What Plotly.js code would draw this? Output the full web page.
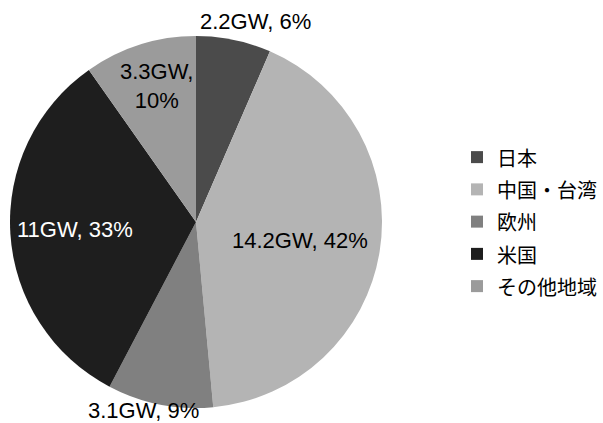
<!DOCTYPE html>
<html>
<head>
<meta charset="utf-8">
<script src="https://cdn.plot.ly/plotly-3.0.1.min.js"></script>
<style>
  html, body { margin: 0; padding: 0; background: #fff; }
  #chart { width: 603px; height: 423px; }
</style>
</head>
<body>
<div id="chart"></div>
<script>
// Installed capacity by region (GW) and the share shown on each slice
const regions = ['日本', '中国・台湾', '欧州', '米国', 'その他地域'];
const capacityGW = [2.2, 14.2, 3.1, 11, 3.3];
const sharePct = [6, 42, 9, 33, 10];
const sliceColors = ['#4b4b4b', '#b4b4b4', '#808080', '#1e1e1e', '#9b9b9b'];

const W = 603, H = 423;
const labelFont = 'Liberation Sans, Arial, Helvetica, sans-serif';

// Pie occupies a square box: center (196, 222), radius 186 px
const cx = 196, cy = 222, r = 186;

// Slice label placement (pixel centers) and text colour
const labelPlacement = [
  { x: 255, y: 22,  color: '#000', twoLines: false },
  { x: 300, y: 240, color: '#000', twoLines: false },
  { x: 143, y: 410, color: '#000', twoLines: false },
  { x: 75,  y: 229, color: '#fff', twoLines: false },
  { x: 156, y: 86,  color: '#000', twoLines: true }
];

const annotations = capacityGW.map((v, i) => {
  const p = labelPlacement[i];
  const sep = p.twoLines ? ',<br>' : ', ';
  return {
    xref: 'paper', yref: 'paper',
    x: p.x / W, y: 1 - p.y / H,
    xanchor: 'center', yanchor: 'middle',
    showarrow: false,
    text: v + 'GW' + sep + sharePct[i] + '%',
    font: { family: labelFont, size: 22, color: p.color }
  };
});

const trace = {
  type: 'pie',
  labels: regions.map(c => '<span style="font-size:20px">' + c + '</span>'),
  values: capacityGW,
  sort: false,
  direction: 'clockwise',
  rotation: 0,
  textinfo: 'none',
  hoverinfo: 'skip',
  marker: { colors: sliceColors, line: { width: 0 } },
  domain: {
    x: [(cx - r) / W, (cx + r) / W],
    y: [(H - (cy + r)) / H, (H - (cy - r)) / H]
  }
};

const layout = {
  width: W, height: H,
  margin: { l: 0, r: 0, t: 0, b: 0 },
  paper_bgcolor: '#fff',
  showlegend: true,
  legend: {
    x: 457 / W, xanchor: 'left',
    y: 1 - 222 / H, yanchor: 'middle',
    font: { family: 'Noto Sans CJK JP, sans-serif', size: 22.5, color: '#000' },
    bgcolor: 'rgba(0,0,0,0)',
    borderwidth: 0
  },
  annotations: annotations
};

Plotly.newPlot('chart', [trace], layout, { staticPlot: true });
</script>
</body>
</html>
